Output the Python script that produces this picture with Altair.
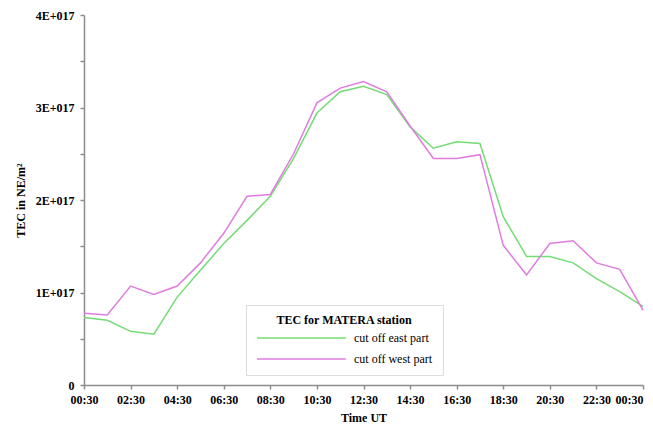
import json
import altair as alt
import pandas as pd

# hourly samples, 00:30 UT to 00:30 UT next day
time_ut = ["00:30", "01:30", "02:30", "03:30", "04:30", "05:30", "06:30", "07:30",
           "08:30", "09:30", "10:30", "11:30", "12:30", "13:30", "14:30", "15:30",
           "16:30", "17:30", "18:30", "19:30", "20:30", "21:30", "22:30", "23:30", "00:30"]

# TEC values in units of 1E+016 NE/m^2
east = [7.3, 7.0, 5.8, 5.5, 9.5, 12.4, 15.3, 17.8, 20.4, 24.5, 29.4, 31.7, 32.3,
        31.4, 27.9, 25.6, 26.3, 26.1, 18.2, 13.9, 13.9, 13.2, 11.5, 10.1, 8.5]
west = [7.75, 7.57, 10.7, 9.8, 10.7, 13.2, 16.4, 20.4, 20.6, 25.0, 30.5, 32.1, 32.8,
        31.7, 28.0, 24.5, 24.5, 24.9, 15.1, 11.9, 15.3, 15.6, 13.2, 12.5, 8.1]

series_names = ["cut off east part", "cut off west part"]
series_colors = ["#74dc74", "#e07ce0"]

x_tick_values = [0, 2, 4, 6, 8, 10, 12, 14, 16, 18, 20, 22, 24]
x_tick_labels = ["00:30", "02:30", "04:30", "06:30", "08:30", "10:30", "12:30",
                 "14:30", "16:30", "18:30", "20:30", "22:30", "00:30"]
y_tick_values = [0, 5, 10, 15, 20, 25, 30, 35, 40]
y_tick_labels = ["0", "", "1E+017", "", "2E+017", "", "3E+017", "", "4E+017"]

rows = []
for name, vals in zip(series_names, [east, west]):
    for i, (t, v) in enumerate(zip(time_ut, vals)):
        rows.append({"hour": i, "time": t, "tec": v, "series": name})
df = pd.DataFrame(rows)

font = "Liberation Serif"

chart = alt.Chart(df).mark_line(strokeWidth=1.5).encode(
    x=alt.X("hour:Q",
            scale=alt.Scale(domain=[0, 24], nice=False, zero=False),
            axis=alt.Axis(values=x_tick_values,
                          labelExpr=json.dumps(x_tick_labels) + "[round(datum.value/2)]",
                          labelFlush=False, labelOverlap=False,
                          labelAlign=alt.ExprRef(expr="datum.value >= 24 ? 'right' : 'center'"),
                          title="Time UT", labelPadding=5, titlePadding=7)),
    y=alt.Y("tec:Q",
            scale=alt.Scale(domain=[0, 40], nice=False),
            axis=alt.Axis(values=y_tick_values,
                          labelExpr=json.dumps(y_tick_labels) + "[round(datum.value/5)]",
                          labelFlush=False, labelOverlap=False,
                          title="TEC in NE/m²", labelPadding=6, titlePadding=8)),
    color=alt.Color("series:N",
                    scale=alt.Scale(domain=series_names, range=series_colors),
                    legend=alt.Legend(title="TEC for MATERA station", orient="none",
                                      legendX=162, legendY=290, direction="vertical",
                                      symbolType="M-1,0H13.8", symbolSize=144,
                                      symbolStrokeWidth=1.5, labelOffset=84,
                                      padding=10, rowPadding=8, titlePadding=4,
                                      titleAnchor="middle", titleFont=font,
                                      titleFontSize=12, titleFontWeight="bold",
                                      titleColor="black", labelFont=font,
                                      labelFontSize=12, labelColor="black",
                                      strokeColor="#dddddd", fillColor="white")),
).properties(
    width=559, height=370,
    autosize=alt.AutoSizeParams(type="none"),
    padding={"left": 76, "top": 7, "right": 2, "bottom": 39},
).configure_view(stroke=None).configure_axis(
    grid=False, labelFont=font, labelFontSize=12, labelFontWeight="bold",
    labelColor="black", titleFont=font, titleFontSize=12, titleFontWeight="bold",
    titleColor="black", domainColor="#8c8c8c", domainWidth=1.5,
    tickColor="#8c8c8c", tickWidth=1.5, tickSize=4,
)

chart.save("out.html", embed_options={"renderer": "svg", "actions": False})
